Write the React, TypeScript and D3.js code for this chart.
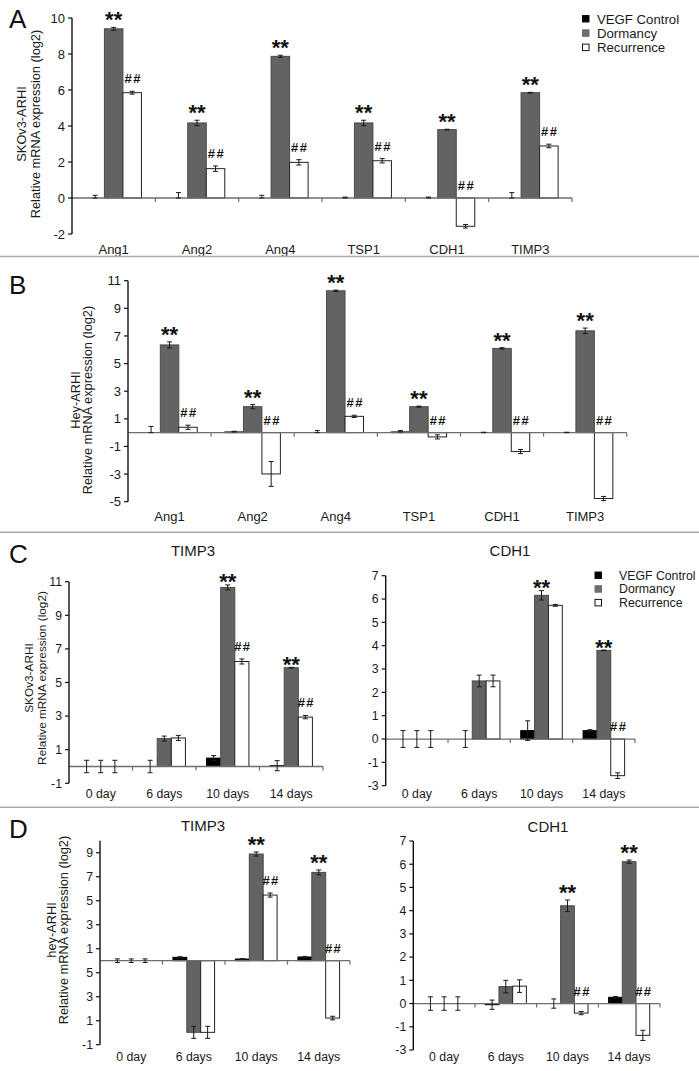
import React from "react";
import * as d3 from "d3";

const FONT = "'Liberation Sans', Arial, Helvetica, sans-serif";

const seriesNames = ["VEGF Control", "Dormancy", "Recurrence"];
const genes = ["Ang1", "Ang2", "Ang4", "TSP1", "CDH1", "TIMP3"];
const days = ["0 day", "6 days", "10 days", "14 days"];

// Panel A (SKOv3-ARHI, genes)
const aControl = [0, 0, 0, 0, 0, 0];
const aControlErr = [0.15, 0.3, 0.15, 0.05, 0.05, 0.3];
const aDormancy = [9.4, 4.17, 7.87, 4.17, 3.8, 5.85];
const aDormancyErr = [0.08, 0.15, 0.06, 0.15, 0.02, 0.02];
const aRecurrence = [5.85, 1.63, 1.98, 2.07, -1.57, 2.89];
const aRecurrenceErr = [0.08, 0.15, 0.15, 0.12, 0.1, 0.1];
const aDormSig = ["**", "**", "**", "**", "**", "**"];
const aRecSig = ["##", "##", "##", "##", "##", "##"];
const aTicks = [10, 8, 6, 4, 2, 0, -2];
const aTickLabels = ["10", "8", "6", "4", "2", "0", "-2"];

// Panel B (Hey-ARHI, genes)
const bControl = [0, 0.05, 0, 0.05, 0, 0];
const bControlErr = [0.45, 0.05, 0.15, 0.1, 0.03, 0.03];
const bDormancy = [6.35, 1.88, 10.27, 1.88, 6.1, 7.37];
const bDormancyErr = [0.22, 0.15, 0.05, 0.04, 0.05, 0.2];
const bRecurrence = [0.39, -2.99, 1.18, -0.31, -1.37, -4.77];
const bRecurrenceErr = [0.15, 0.9, 0.08, 0.15, 0.15, 0.15];
const bDormSig = ["**", "**", "**", "**", "**", "**"];
const bRecSig = ["##", "##", "##", "##", "##", "##"];
const bTicks = [11, 9, 7, 5, 3, 1, -1, -3, -5];
const bTickLabels = ["11", "9", "7", "5", "3", "1", "-1", "-3", "-5"];

// Panel C left (SKOv3-ARHI, TIMP3)
const cTimpControl = [0, 0, 0.5, 0.05];
const cTimpControlErr = [0.37, 0.37, 0.15, 0.3];
const cTimpDormancy = [0, 1.66, 10.66, 5.88];
const cTimpDormancyErr = [0.37, 0.15, 0.15, 0.02];
const cTimpRecurrence = [0, 1.7, 6.25, 2.94];
const cTimpRecurrenceErr = [0.37, 0.15, 0.15, 0.1];
const cTimpDormSig = ["", "", "**", "**"];
const cTimpRecSig = ["", "", "##", "##"];
const cTimpTicks = [11, 9, 7, 5, 3, 1, -1];
const cTimpTickLabels = ["11", "9", "7", "5", "3", "1", "-1"];

// Panel C right (SKOv3-ARHI, CDH1)
const cCdhControl = [0, 0, 0.36, 0.36];
const cCdhControlErr = [0.36, 0.36, 0.42, 0.04];
const cCdhDormancy = [0, 2.49, 6.16, 3.8];
const cCdhDormancyErr = [0.36, 0.25, 0.2, 0.01];
const cCdhRecurrence = [0, 2.49, 5.73, -1.57];
const cCdhRecurrenceErr = [0.36, 0.25, 0.04, 0.12];
const cCdhDormSig = ["", "", "**", "**"];
const cCdhRecSig = ["", "", "", "##"];
const cdhTicks = [7, 6, 5, 4, 3, 2, 1, 0, -1, -2];
const cdhTickLabels = ["7", "6", "5", "4", "3", "2", "1", "0", "-1", "-3"];

// Panel D left (hey-ARHI, TIMP3)
const dTimpControl = [0, 0.28, 0.14, 0.31];
const dTimpControlErr = [0.15, 0.05, 0.04, 0.05];
const dTimpDormancy = [0, -5.97, 8.89, 7.36];
const dTimpDormancyErr = [0.15, 0.5, 0.17, 0.2];
const dTimpRecurrence = [0, -5.97, 5.47, -4.78];
const dTimpRecurrenceErr = [0.15, 0.5, 0.17, 0.15];
const dTimpDormSig = ["", "", "**", "**"];
const dTimpRecSig = ["", "", "##", "##"];
const dTimpTicks = [9, 7, 5, 3, 1, -1, -3, -5, -7];
const dTimpTickLabels = ["9", "7", "5", "3", "1", "5", "3", "1", "-1"];

// Panel D right (hey-ARHI, CDH1)
const dCdhControl = [0, -0.05, 0, 0.27];
const dCdhControlErr = [0.29, 0.2, 0.2, 0.03];
const dCdhDormancy = [0, 0.73, 4.21, 6.11];
const dCdhDormancyErr = [0.29, 0.27, 0.25, 0.07];
const dCdhRecurrence = [0, 0.75, -0.41, -1.37];
const dCdhRecurrenceErr = [0.29, 0.27, 0.07, 0.22];
const dCdhDormSig = ["", "", "**", "**"];
const dCdhRecSig = ["", "", "##", "##"];

const fills = ["#000000", "#636363", "#ffffff"];
const strokes = ["#000000", "#4a4a4a", "#222222"];

type PanelProps = {
  cats: string[];
  vals: number[][];
  errs: number[][];
  halfControlErr?: boolean;
  sigD: string[];
  sigR: string[];
  xRange: [number, number];
  yDomain: [number, number];
  yRange: [number, number];
  ticks: number[];
  tickLabels: string[];
  catLabelY: number;
  starOffset: number;
  tickFont: number;
};

function Panel(p: PanelProps) {
  const x0 = d3.scaleBand<string>().domain(p.cats).range(p.xRange).paddingInner(0).paddingOuter(0);
  const x1 = d3
    .scaleBand<string>()
    .domain(seriesNames)
    .range([0, x0.bandwidth()])
    .paddingInner(0)
    .paddingOuter(0.75);
  const y = d3.scaleLinear().domain(p.yDomain).range(p.yRange);
  const y0 = y(0);
  const bw = x1.bandwidth();
  const ax = p.xRange[0];

  const bars: React.ReactNode[] = [];
  const errs: React.ReactNode[] = [];
  const sigs: React.ReactNode[] = [];
  p.cats.forEach((c, i) => {
    seriesNames.forEach((s, si) => {
      const v = p.vals[si][i];
      const e = p.errs[si][i];
      const bx = (x0(c) as number) + (x1(s) as number);
      const yv = y(v);
      if (Math.abs(yv - y0) > 0.3) {
        bars.push(
          <rect
            key={`b${i}-${si}`}
            x={bx}
            y={Math.min(yv, y0)}
            width={bw}
            height={Math.abs(yv - y0)}
            fill={fills[si]}
            stroke={strokes[si]}
            strokeWidth={1}
          />
        );
      }
      const cx = bx + bw / 2;
      const yt = y(v + e);
      const yb = p.halfControlErr && si === 0 ? y(v) : y(v - e);
      errs.push(
        <g key={`e${i}-${si}`} stroke="#1a1a1a" strokeWidth={1}>
          <line x1={cx} x2={cx} y1={yt} y2={yb} />
          <line x1={cx - 2.5} x2={cx + 2.5} y1={yt} y2={yt} />
          <line x1={cx - 2.5} x2={cx + 2.5} y1={yb} y2={yb} />
        </g>
      );
      const topV = Math.max(v + e, 0);
      if (si === 1 && p.sigD[i]) {
        sigs.push(
          <text
            key={`sd${i}`}
            x={cx}
            y={y(topV) + p.starOffset}
            textAnchor="middle"
            fontFamily={FONT}
            fontWeight="bold"
            fontSize={22}
            fill="#111"
          >
            {p.sigD[i]}
          </text>
        );
      }
      if (si === 2 && p.sigR[i]) {
        sigs.push(
          <text
            key={`sr${i}`}
            x={cx + 1}
            y={y(topV) - 8}
            textAnchor="middle"
            fontFamily={FONT}
            fontWeight="bold"
            fontSize={13}
            letterSpacing={1.5}
            fill="#111"
          >
            {p.sigR[i]}
          </text>
        );
      }
    });
  });

  return (
    <g>
      {bars}
      <line x1={ax} x2={p.xRange[1]} y1={y0} y2={y0} stroke="#6e6e6e" strokeWidth={1.3} />
      {p.cats.map((c, i) => {
        const tx = i === 0 ? p.xRange[1] : (x0(c) as number);
        return <line key={`xt${i}`} x1={tx} x2={tx} y1={y0} y2={y0 + 4} stroke="#6e6e6e" strokeWidth={1.2} />;
      })}
      <line x1={ax} x2={ax} y1={y(p.yDomain[1])} y2={y(p.yDomain[0])} stroke="#111" strokeWidth={1.4} />
      {p.ticks.map((t, i) => (
        <g key={`yt${i}`}>
          <line x1={ax - 4} x2={ax} y1={y(t)} y2={y(t)} stroke="#111" strokeWidth={1.2} />
          <text
            x={ax - 7}
            y={y(t)}
            dy="0.35em"
            textAnchor="end"
            fontFamily={FONT}
            fontSize={p.tickFont}
            fill="#1a1a1a"
          >
            {p.tickLabels[i]}
          </text>
        </g>
      ))}
      {errs}
      {sigs}
      {p.cats.map((c, i) => (
        <text
          key={`cl${i}`}
          x={(x0(c) as number) + x0.bandwidth() / 2}
          y={p.catLabelY}
          textAnchor="middle"
          fontFamily={FONT}
          fontSize={p.tickFont}
          fill="#1a1a1a"
        >
          {c}
        </text>
      ))}
    </g>
  );
}

function Legend({ x, y, textX, step, fontSize }: { x: number; y: number; textX: number; step: number; fontSize: number }) {
  return (
    <g>
      {seriesNames.map((s, i) => (
        <g key={s}>
          <rect
            x={x}
            y={y + i * step - 3}
            width={6.5}
            height={6.5}
            fill={i === 1 ? "#6e6e6e" : fills[i]}
            stroke={i === 1 ? "#6e6e6e" : "#111"}
            strokeWidth={1}
          />
          <text x={textX} y={y + i * step} dy="0.38em" fontFamily={FONT} fontSize={fontSize} fill="#1a1a1a">
            {s}
          </text>
        </g>
      ))}
    </g>
  );
}

function YTitle({ x1, x2, cy, l1, l2, fs }: { x1: number; x2: number; cy: number; l1: string; l2: string; fs: number }) {
  return (
    <g fontFamily={FONT} fontSize={fs} fill="#1a1a1a">
      <text transform={`translate(${x1},${cy}) rotate(-90)`} textAnchor="middle">
        {l1}
      </text>
      <text transform={`translate(${x2},${cy}) rotate(-90)`} textAnchor="middle">
        {l2}
      </text>
    </g>
  );
}

function Letter({ x, y, t }: { x: number; y: number; t: string }) {
  return (
    <text x={x} y={y} fontFamily={FONT} fontSize={26} fill="#111">
      {t}
    </text>
  );
}

function Title({ x, y, t }: { x: number; y: number; t: string }) {
  return (
    <text x={x} y={y} textAnchor="middle" fontFamily={FONT} fontSize={15} fill="#1a1a1a">
      {t}
    </text>
  );
}

export default function App() {
  const ylab = "Relative mRNA expression (log2)";
  return (
    <svg width={699} height={1071} style={{ position: "absolute", left: 0, top: 0, background: "#fff" }}>
      <rect x={0} y={0} width={699} height={1071} fill="#fff" />
      {/* Panel A */}
      <Letter x={9} y={28} t="A" />
      <YTitle x1={26} x2={39.5} cy={124} l1="SKOv3-ARHI" l2={ylab} fs={12.8} />
      <Panel
        cats={genes}
        vals={[aControl, aDormancy, aRecurrence]}
        errs={[aControlErr, aDormancyErr, aRecurrenceErr]}
        halfControlErr
        sigD={aDormSig}
        sigR={aRecSig}
        xRange={[72, 572]}
        yDomain={[-2, 10]}
        yRange={[234, 18]}
        ticks={aTicks}
        tickLabels={aTickLabels}
        catLabelY={254}
        starOffset={0}
        tickFont={13}
      />
      <Legend x={582.5} y={18.5} textX={597} step={14.3} fontSize={13.2} />
      <line x1={0} x2={699} y1={256.5} y2={256.5} stroke="#ababab" strokeWidth={1.6} />

      {/* Panel B */}
      <Letter x={9} y={294} t="B" />
      <YTitle x1={80} x2={92} cy={400} l1="Hey-ARHI" l2={ylab} fs={12.8} />
      <Panel
        cats={genes}
        vals={[bControl, bDormancy, bRecurrence]}
        errs={[bControlErr, bDormancyErr, bRecurrenceErr]}
        halfControlErr
        sigD={bDormSig}
        sigR={bRecSig}
        xRange={[128, 626.7]}
        yDomain={[-5, 11]}
        yRange={[501.7, 280.7]}
        ticks={bTicks}
        tickLabels={bTickLabels}
        catLabelY={521}
        starOffset={0}
        tickFont={13}
      />
      <line x1={0} x2={699} y1={532.3} y2={532.3} stroke="#ababab" strokeWidth={1.6} />

      {/* Panel C */}
      <Letter x={9} y={563} t="C" />
      <Title x={193} y={556} t="TIMP3" />
      <Title x={510} y={556} t="CDH1" />
      <YTitle x1={33} x2={45.5} cy={678} l1="SKOv3-ARHI" l2={ylab} fs={11.8} />
      <Panel
        cats={days}
        vals={[cTimpControl, cTimpDormancy, cTimpRecurrence]}
        errs={[cTimpControlErr, cTimpDormancyErr, cTimpRecurrenceErr]}
        sigD={cTimpDormSig}
        sigR={cTimpRecSig}
        xRange={[69, 323]}
        yDomain={[-1, 11]}
        yRange={[783.3, 581.7]}
        ticks={cTimpTicks}
        tickLabels={cTimpTickLabels}
        catLabelY={798}
        starOffset={4.5}
        tickFont={12.3}
      />
      <Panel
        cats={days}
        vals={[cCdhControl, cCdhDormancy, cCdhRecurrence]}
        errs={[cCdhControlErr, cCdhDormancyErr, cCdhRecurrenceErr]}
        sigD={cCdhDormSig}
        sigR={cCdhRecSig}
        xRange={[385.7, 635]}
        yDomain={[-2, 7]}
        yRange={[785.7, 575.7]}
        ticks={cdhTicks}
        tickLabels={cdhTickLabels}
        catLabelY={798}
        starOffset={4.5}
        tickFont={12.3}
      />
      <Legend x={595} y={575} textX={619} step={13.7} fontSize={12.3} />
      <line x1={0} x2={699} y1={807.3} y2={807.3} stroke="#ababab" strokeWidth={1.6} />

      {/* Panel D */}
      <Letter x={9} y={838} t="D" />
      <Title x={203} y={831} t="TIMP3" />
      <Title x={548} y={832} t="CDH1" />
      <YTitle x1={56} x2={67.5} cy={930} l1="hey-ARHI" l2={ylab} fs={12.8} />
      <Panel
        cats={days}
        vals={[dTimpControl, dTimpDormancy, dTimpRecurrence]}
        errs={[dTimpControlErr, dTimpDormancyErr, dTimpRecurrenceErr]}
        sigD={dTimpDormSig}
        sigR={dTimpRecSig}
        xRange={[100, 350]}
        yDomain={[-7, 10]}
        yRange={[1044.7, 840.7]}
        ticks={dTimpTicks}
        tickLabels={dTimpTickLabels}
        catLabelY={1061}
        starOffset={0}
        tickFont={12.3}
      />
      <Panel
        cats={days}
        vals={[dCdhControl, dCdhDormancy, dCdhRecurrence]}
        errs={[dCdhControlErr, dCdhDormancyErr, dCdhRecurrenceErr]}
        sigD={dCdhDormSig}
        sigR={dCdhRecSig}
        xRange={[413.3, 660]}
        yDomain={[-2, 7]}
        yRange={[1050, 841]}
        ticks={cdhTicks}
        tickLabels={cdhTickLabels}
        catLabelY={1061}
        starOffset={0}
        tickFont={12.3}
      />
    </svg>
  );
}
